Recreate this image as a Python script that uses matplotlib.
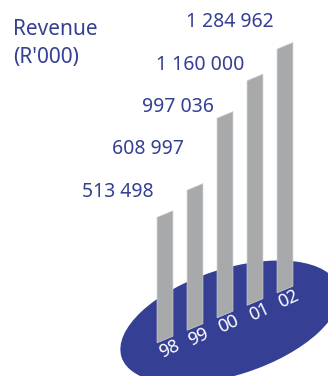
import numpy as np
import matplotlib
matplotlib.use('Agg')
import matplotlib.pyplot as plt
from matplotlib.patches import Ellipse
from matplotlib.transforms import Affine2D, blended_transform_factory

years = ['98', '99', '00', '01', '02']
revenue = [513498, 608997, 997036, 1160000, 1284962]   # R'000
labels = ['513 498', '608 997', '997 036', '1 160 000', '1 284 962']

blue = '#353f94'
grey = '#a7a9ab'

plt.rcParams['font.family'] = ['Noto Sans', 'DejaVu Sans']

W, H = 328, 376
fig = plt.figure(figsize=(W / 100, H / 100), dpi=100)

# background axes in pixel units (y down) for the disc and the titles
bg = fig.add_axes([0, 0, 1, 1])
bg.set_xlim(0, W)
bg.set_ylim(H, 0)
bg.axis('off')

bg.add_patch(Ellipse((230, 322), 228, 106, angle=-18, color=blue, lw=0))

bg.text(13, 35, 'Revenue', color=blue, fontsize=15, va='baseline')
bg.text(13, 63.5, "(R'000)", color=blue, fontsize=15, va='baseline')

# bar axes: x = year index, y = revenue, sheared so the baseline climbs
unit = 6523.0           # revenue units per pixel
floor = -305000         # value where the bars start
base_px = 36.5          # height of the first baseline above the bottom
step_px = 12.5          # baseline rise per bar
lo = floor - base_px * unit

bx = fig.add_axes([150 / W, 0, 150 / W, 1])
bx.set_xlim(-0.5, 4.5)
bx.set_ylim(lo, lo + H * unit)
bx.axis('off')
bx.patch.set_visible(False)

shear = Affine2D(np.array([[1, 0, 0], [step_px * unit, 1, 0], [0, 0, 1]]))
tr = shear + bx.transData

idx = np.arange(len(years))
bx.bar(idx, np.array(revenue) - floor, bottom=floor, width=0.53,
       color=grey, edgecolor='#cfd0d1', linewidth=0.5, transform=tr)

for i, yr in enumerate(years):
    bx.text(i + 0.13, floor - 11.5 * unit, yr, transform=tr, color='white',
            fontsize=13, rotation=25, rotation_mode='anchor',
            ha='center', va='center')

# value labels climb up the left of each bar
lab_tr = blended_transform_factory(bx.transData, bg.transData)
for i, lab in enumerate(labels):
    bx.text(i - 0.37, 192 - 42.5 * i, lab, transform=lab_tr, color=blue,
            fontsize=14, ha='right', va='center')

plt.savefig('out.png', dpi=100)
plt.close(fig)
